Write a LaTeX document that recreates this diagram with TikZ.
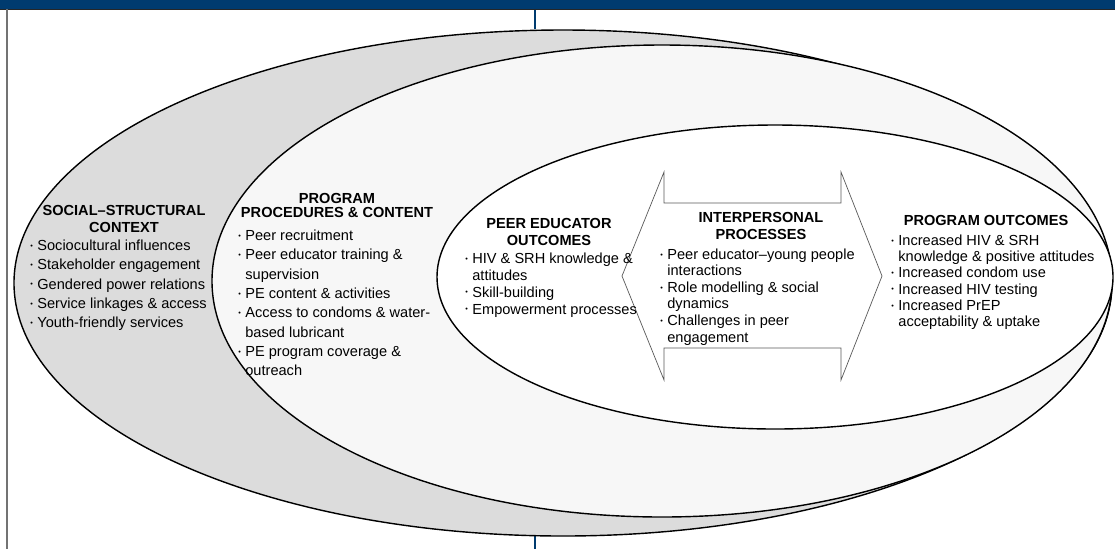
\documentclass[tikz,border=0pt]{standalone}
\usepackage{fontspec}
\setmainfont{Liberation Sans}
\usepackage{graphicx}
\definecolor{barblue}{HTML}{003B6F}
\definecolor{outergray}{HTML}{DCDCDC}
\definecolor{lightring}{HTML}{F7F7F7}
\newcommand{\dotitem}{\makebox[4pt][l]{\raisebox{1.3pt}{\scalebox{0.5}{\textbullet}}}}
\newcommand{\contline}{\hspace*{4pt}}

\begin{document}
\begin{tikzpicture}[
    x=0.02cm, y=-0.02cm,
    ring/.style={draw=black, line width=0.8pt},
    headtext/.style={font=\bfseries\fontsize{8.3}{10}\selectfont, align=center, inner sep=0pt},
    widelist/.style={font=\fontsize{8.3}{11}\selectfont, align=left, inner sep=0pt, anchor=north west},
    narrowlist/.style={font=\fontsize{8.3}{9.4}\selectfont, align=left, inner sep=0pt, anchor=north west},
    arrowshape/.style={draw=black!65, line width=0.4pt, fill=white}
]
    \useasboundingbox (0,0) rectangle (1115,549);

    % Frame
    \fill[barblue] (0,0) rectangle (1115,9);
    \draw[black!85, line width=0.6pt] (0,9.3) -- (1115,9.3);
    \draw[black!55, line width=0.7pt] (7,9) -- (7,549);
    \draw[barblue, line width=1.2pt] (535,9.5) -- (535,29);
    \draw[barblue, line width=1.2pt] (535,536) -- (535,549);

    % Nested rings
    \filldraw[ring, fill=outergray] (563,283) ellipse [x radius=549, y radius=253];
    \filldraw[ring, fill=lightring] (662,281) ellipse [x radius=450, y radius=236];
    \filldraw[ring, fill=white] (775,277) ellipse [x radius=338, y radius=152];

    % Double arrow
    \draw[arrowshape] (622,276) -- (664,172) -- (664,203) -- (841,203) -- (841,172)
        -- (882,276) -- (841,380) -- (841,348) -- (664,348) -- (664,380) -- cycle;

    % Social-structural context
    \node[headtext] (ssc) at (124,219) {SOCIAL--STRUCTURAL\\CONTEXT};
    \node[widelist] (ssclist) at (30,239.5) {\dotitem Sociocultural influences\\
        \dotitem Stakeholder engagement\\
        \dotitem Gendered power relations\\
        \dotitem Service linkages \& access\\
        \dotitem Youth-friendly services};

    % Program procedures
    \node[headtext, font=\bfseries\fontsize{8.3}{8.5}\selectfont] (ppc) at (337,205.5) {PROGRAM\\PROCEDURES \& CONTENT};
    \node[widelist] (ppclist) at (238,229.5) {\dotitem Peer recruitment\\
        \dotitem Peer educator training \&\\
        \contline supervision\\
        \dotitem PE content \& activities\\
        \dotitem Access to condoms \& water-\\
        \contline based lubricant\\
        \dotitem PE program coverage \&\\
        \contline outreach};

    % Peer educator outcomes
    \node[headtext] (peo) at (549,232) {PEER EDUCATOR\\OUTCOMES};
    \node[narrowlist, font=\fontsize{8.3}{9.6}\selectfont] (peolist) at (465,252.5) {\dotitem HIV \& SRH knowledge \&\\
        \contline attitudes\\
        \dotitem Skill-building\\
        \dotitem Empowerment processes};

    % Interpersonal processes
    \node[headtext] (ipp) at (761,226) {INTERPERSONAL\\PROCESSES};
    \node[narrowlist] (ipplist) at (660,248.5) {\dotitem Peer educator--young people\\
        \contline interactions\\
        \dotitem Role modelling \& social\\
        \contline dynamics\\
        \dotitem Challenges in peer\\
        \contline engagement};

    % Program outcomes
    \node[headtext] (pgo) at (986,220) {PROGRAM OUTCOMES};
    \node[narrowlist, font=\fontsize{8.3}{9.25}\selectfont] (pgolist) at (891,234.5) {\dotitem Increased HIV \& SRH\\
        \contline knowledge \& positive attitudes\\
        \dotitem Increased condom use\\
        \dotitem Increased HIV testing\\
        \dotitem Increased PrEP\\
        \contline acceptability \& uptake};
\end{tikzpicture}
\end{document}
